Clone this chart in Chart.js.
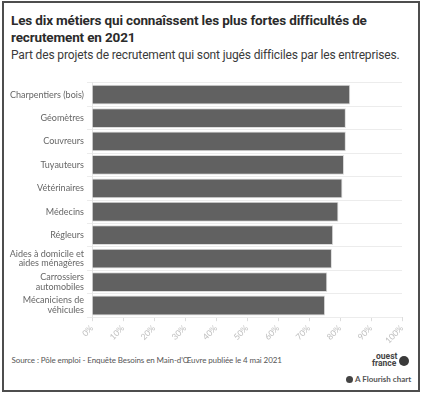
<!DOCTYPE html>
<html lang="fr">
<head>
<meta charset="utf-8">
<script src="https://cdn.jsdelivr.net/npm/chart.js@4"></script>
<style>
  html, body { margin: 0; padding: 0; background: #fff; width: 424px; height: 396px; overflow: hidden; }
  #frame { position: absolute; left: 2px; top: 1px; width: 418px; height: 391px; box-sizing: border-box; border: 2px solid #4d4d4d; }
  .t { position: absolute; white-space: nowrap; }
  #title { left: 11px; top: 11.5px; font: bold 13.5px/17px Roboto, sans-serif; letter-spacing: -0.15px; color: #2b2b2b; }
  #subtitle { left: 11px; top: 46.5px; font: 12px/16px Roboto, sans-serif; letter-spacing: -0.14px; color: #3a3a3a; }
  #source { left: 11.5px; top: 354px; font: 8px/12px Lato, sans-serif; letter-spacing: -0.1px; color: #555; }
  #logo1 { left: 376px; top: 351.5px; font: bold 8.5px/8px Roboto, sans-serif; color: #444; }
  #logo2 { left: 372px; top: 358.5px; font: bold 8.5px/8px Roboto, sans-serif; color: #444; }
  #logoc { position: absolute; left: 399px; top: 356px; width: 10px; height: 10px; border-radius: 50%; background: #3a3a3a; }
  #flo { left: 355px; top: 373.5px; font: bold 8px/11px Lato, sans-serif; color: #555; }
  #floc { position: absolute; left: 346px; top: 375.5px; width: 7px; height: 7px; border-radius: 50%; background: #444; }
  #wrap { position: absolute; left: 0; top: 70px; width: 424px; height: 280px; }
</style>
</head>
<body>
<div id="frame"></div>
<div class="t" id="title">Les dix métiers qui connaîssent les plus fortes difficultés de<br>recrutement en 2021</div>
<div class="t" id="subtitle">Part des projets de recrutement qui sont jugés difficiles par les entreprises.</div>
<div id="wrap"><canvas id="c"></canvas></div>
<div class="t" id="source">Source : Pôle emploi - Enquête Besoins en Main-d'Œuvre publiée le 4 mai 2021</div>
<div class="t" id="logo1">ouest</div>
<div class="t" id="logo2">france</div>
<div id="logoc"></div>
<div id="floc"></div>
<div class="t" id="flo">A Flourish chart</div>
<script>
const categories = [
  "Charpentiers (bois)",
  "Géomètres",
  "Couvreurs",
  "Tuyauteurs",
  "Vétérinaires",
  "Médecins",
  "Régleurs",
  ["Aides à domicile et", "aides ménagères"],
  ["Carrossiers", "automobiles"],
  ["Mécaniciens de", "véhicules"]
];
const values = [83.3, 81.9, 81.9, 81.3, 80.8, 79.5, 77.8, 77.4, 75.9, 75.2];
const xTicks = [0, 10, 20, 30, 40, 50, 60, 70, 80, 90, 100];

new Chart(document.getElementById('c'), {
  type: 'bar',
  data: {
    labels: categories,
    datasets: [{
      data: values,
      backgroundColor: '#616161',
      borderColor: '#dcdcdc',
      borderWidth: 1,
      barPercentage: 0.845,
      categoryPercentage: 1
    }]
  },
  options: {
    indexAxis: 'y',
    responsive: true,
    maintainAspectRatio: false,
    animation: false,
    events: [],
    layout: { padding: { top: 10.2, right: 22, left: 0, bottom: 0 } },
    plugins: { legend: { display: false }, tooltip: { enabled: false } },
    scales: {
      x: {
        min: 0, max: 100,
        afterFit: s => { s.height = 32.8; },
        afterBuildTicks: s => { s.ticks = xTicks.map(v => ({ value: v })); },
        border: { display: false },
        grid: { drawOnChartArea: false, drawTicks: true, tickLength: 4, color: '#dddddd' },
        ticks: {
          minRotation: 45, maxRotation: 45, padding: 2,
          color: '#bdbdbd',
          font: { family: 'Lato', size: 8.5 },
          callback: v => v + '%'
        }
      },
      y: {
        afterFit: s => { s.width = 92; },
        border: { display: true, color: '#e6e6e6' },
        grid: { color: '#ececec', tickLength: 5 },
        ticks: {
          padding: 3,
          color: '#666666',
          font: { family: 'Lato', size: 9, lineHeight: 1.1 }
        }
      }
    }
  }
});
</script>
</body>
</html>
